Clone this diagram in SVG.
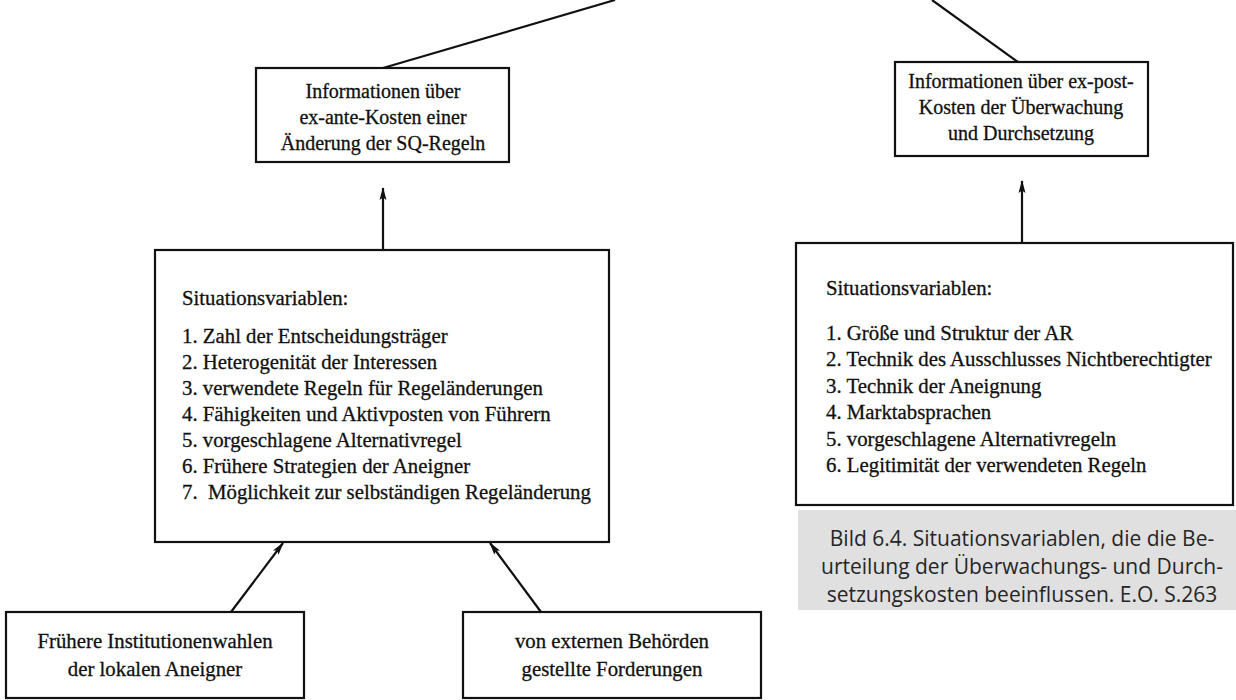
<svg xmlns="http://www.w3.org/2000/svg" width="1236" height="700" viewBox="0 0 1236 700">
<defs>
<style>
.box{fill:#fff;stroke:#111;stroke-width:2.2}
.t{font-family:"Liberation Serif","Times New Roman",serif;font-size:20.8px;fill:#111;stroke:#111;stroke-width:0.3}
.h{font-size:20px}
.c{text-anchor:middle}
.cap{font-family:"Open Sans","Noto Sans",sans-serif;font-size:21px;fill:#262626;text-anchor:middle}
.ln{stroke:#111;stroke-width:2.2;fill:none}
</style>
<marker id="ah" viewBox="0 0 13 10" refX="12" refY="5" markerWidth="13" markerHeight="10" markerUnits="userSpaceOnUse" orient="auto">
<path d="M0,1.5 L13,5 L0,8.5 L2.5,5 Z" fill="#111"/>
</marker>
</defs>
<rect width="1236" height="700" fill="#fff"/>
<g id="connectors">
<line class="ln" x1="383" y1="68" x2="615" y2="0"/>
<line class="ln" x1="1018" y1="62" x2="932" y2="0"/>
<line class="ln" x1="383" y1="250" x2="383" y2="188" marker-end="url(#ah)"/>
<line class="ln" x1="1022" y1="243" x2="1022" y2="181" marker-end="url(#ah)"/>
<line class="ln" x1="231" y1="612" x2="283" y2="543" marker-end="url(#ah)"/>
<line class="ln" x1="541" y1="612" x2="490" y2="543" marker-end="url(#ah)"/>
</g>
<g id="node-exante">
<rect class="box" x="256" y="68" width="253" height="94"/>
<text class="t h c" x="383" y="98">Informationen über</text>
<text class="t h c" x="383" y="124">ex-ante-Kosten einer</text>
<text class="t h c" x="383" y="150">Änderung der SQ-Regeln</text>
</g>
<g id="node-expost">
<rect class="box" x="895" y="62" width="253" height="94"/>
<text class="t h c" x="1021" y="88">Informationen über ex-post-</text>
<text class="t h c" x="1021" y="114">Kosten der Überwachung</text>
<text class="t h c" x="1021" y="140">und Durchsetzung</text>
</g>
<g id="node-situ-left">
<rect class="box" x="155" y="250" width="454" height="292"/>
<text class="t" x="182" y="305">Situationsvariablen:</text>
<text class="t" x="182" y="343">1. Zahl der Entscheidungsträger</text>
<text class="t" x="182" y="369">2. Heterogenität der Interessen</text>
<text class="t" x="182" y="395">3. verwendete Regeln für Regeländerungen</text>
<text class="t" x="182" y="421">4. Fähigkeiten und Aktivposten von Führern</text>
<text class="t" x="182" y="447">5. vorgeschlagene Alternativregel</text>
<text class="t" x="182" y="473">6. Frühere Strategien der Aneigner</text>
<text class="t" x="182" y="499" xml:space="preserve">7.  Möglichkeit zur selbständigen Regeländerung</text>
</g>
<g id="node-situ-right">
<rect class="box" x="796" y="243" width="437" height="262"/>
<text class="t" x="826" y="295">Situationsvariablen:</text>
<text class="t" x="826" y="340">1. Größe und Struktur der AR</text>
<text class="t" x="826" y="366">2. Technik des Ausschlusses Nichtberechtigter</text>
<text class="t" x="826" y="393">3. Technik der Aneignung</text>
<text class="t" x="826" y="419">4. Marktabsprachen</text>
<text class="t" x="826" y="446">5. vorgeschlagene Alternativregeln</text>
<text class="t" x="826" y="472">6. Legitimität der verwendeten Regeln</text>
</g>
<g id="caption">
<rect x="798" y="510" width="438" height="100" fill="#e0e0e0"/>
<text class="cap" x="1022" y="546">Bild 6.4. Situationsvariablen, die die Be-</text>
<text class="cap" x="1022" y="574">urteilung der Überwachungs- und Durch-</text>
<text class="cap" x="1022" y="602">setzungskosten beeinflussen. E.O. S.263</text>
</g>
<g id="node-fruehere">
<rect class="box" x="6" y="612" width="298" height="86"/>
<text class="t c" x="155" y="648">Frühere Institutionenwahlen</text>
<text class="t c" x="155" y="676">der lokalen Aneigner</text>
</g>
<g id="node-extern">
<rect class="box" x="463" y="612" width="298" height="86"/>
<text class="t c" x="612" y="648">von externen Behörden</text>
<text class="t c" x="612" y="676">gestellte Forderungen</text>
</g>
</svg>
